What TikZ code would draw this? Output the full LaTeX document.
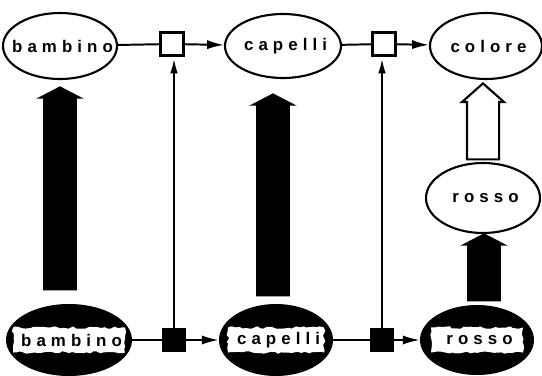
\documentclass[tikz,border=0pt]{standalone}
\usepackage{fontspec}
\setmainfont{Liberation Sans}
\newfontfamily\wordfont{Liberation Sans}[LetterSpace=30]
\usetikzlibrary{shapes,arrows.meta,positioning,calc,decorations.pathmorphing}
\newlength{\pxu}
\setlength{\pxu}{0.025cm}
\newcommand{\tagword}[1]{\kern.3em#1}

\begin{document}
\begin{tikzpicture}[x=0.025cm, y=-0.025cm, font=\wordfont\bfseries\fontsize{12}{14}\selectfont]
  % Define styles
  \tikzstyle{word} = [ellipse, draw, line width=1.5pt, fill=white, inner sep=0pt]
  \tikzstyle{inkword} = [ellipse, fill=black, inner sep=0pt]
  \tikzstyle{blot} = [fill=white, inner sep=1pt, minimum height=25\pxu, decorate, decoration={random steps, segment length=2.5pt, amplitude=0.9pt}]
  \tikzstyle{slot} = [rectangle, draw, line width=1.5pt, fill=white, minimum size=23\pxu, inner sep=0pt]
  \tikzstyle{inkslot} = [rectangle, fill=black, minimum size=24\pxu, inner sep=0pt]
  \tikzstyle{wire} = [line width=1.4pt]
  \tikzstyle{link} = [line width=1.4pt, -{Latex[length=12pt, width=6.5pt]}]
  \tikzstyle{thin} = [line width=0.9pt, -{Latex[length=10pt, width=5.5pt]}, shorten >=2pt]
  \tikzstyle{fat} = [single arrow, rotate=90, anchor=tip, fill=black, inner xsep=0pt, inner ysep=16.5\pxu, single arrow head extend=7\pxu, single arrow tip angle=125]
  \tikzstyle{hollow} = [single arrow, rotate=90, anchor=tip, draw, line width=1.5pt, fill=white, inner xsep=0pt, inner ysep=15\pxu, single arrow head extend=5\pxu, single arrow tip angle=97]

  \useasboundingbox (0,0) rectangle (542,376);

  % Upper row
  \node [word, minimum width=114\pxu, minimum height=66\pxu, label=center:\tagword{bambino}] (bambinoU) at (60,46) {};
  \node [slot] (sqU1) at (172,44) {};
  \node [word, minimum width=116\pxu, minimum height=64\pxu, label=center:\tagword{capelli}] (capelliU) at (283,46) {};
  \node [slot] (sqU2) at (384,44) {};
  \node [word, minimum width=112\pxu, minimum height=66\pxu, label=center:\tagword{colore}] (coloreU) at (486,46) {};

  % Middle
  \node [word, minimum width=114\pxu, minimum height=70\pxu, label=center:\tagword{rosso}] (rossoM) at (483,198) {};

  % Lower row
  \node [inkword, minimum width=126\pxu, minimum height=72\pxu, label={[blot, minimum width=112\pxu]center:\tagword{bambino}}] (bambinoL) at (69,340) {};
  \node [inkslot] (sqL1) at (174,340) {};
  \node [inkword, minimum width=114\pxu, minimum height=72\pxu, label={[blot, minimum width=96\pxu]center:\tagword{capelli}}] (capelliL) at (276,340) {};
  \node [inkslot] (sqL2) at (382,340) {};
  \node [inkword, minimum width=114\pxu, minimum height=70\pxu, label={[blot, minimum width=92\pxu]center:\tagword{rosso}}] (rossoL) at (477,340) {};

  % Big arrows
  \node [fat, minimum height=204\pxu] (upA) at (60,86) {};
  \node [fat, minimum height=203\pxu] (upB) at (273,93) {};
  \node [fat, minimum height=68\pxu] (upC) at (484,233) {};
  \node [hollow, minimum height=76\pxu] (upD) at (483,82) {};

  % Links
  \draw [wire] (bambinoU) -- (sqU1);
  \draw [link] (sqU1) -- (capelliU);
  \draw [wire] (capelliU) -- (sqU2);
  \draw [link] (sqU2) -- (coloreU);
  \draw [wire] (bambinoL) -- (sqL1);
  \draw [link] (sqL1) -- (capelliL);
  \draw [wire] (capelliL) -- (sqL2);
  \draw [link] (sqL2) -- (rossoL);
  \draw [thin] (sqL1) -- (sqL1 |- sqU1.south);
  \draw [thin] (sqL2) -- (sqL2 |- sqU2.south);

\end{tikzpicture}
\end{document}
